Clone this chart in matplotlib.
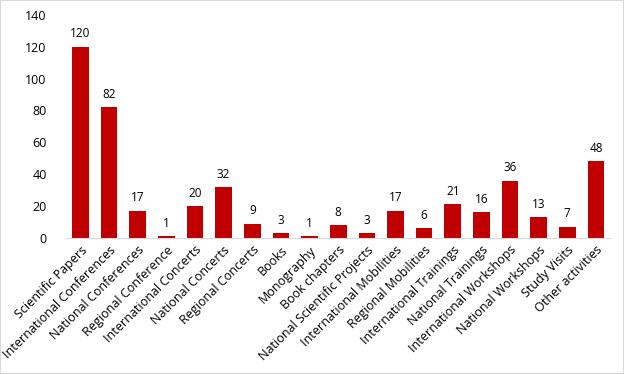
import matplotlib.pyplot as plt
from matplotlib.patches import Rectangle

categories = ["Scientific Papers", "International Conferences", "National Conferences",
              "Regional Conference", "International Concerts", "National Concerts",
              "Regional Concerts", "Books", "Monography", "Book chapters",
              "National Scientific Projects", "International Mobilities",
              "Regional Mobilities", "International Trainings", "National Trainings",
              "International Workshops", "National Workshops", "Study Visits",
              "Other activities"]
values = [120, 82, 17, 1, 20, 32, 9, 3, 1, 8, 3, 17, 6, 21, 16, 36, 13, 7, 48]

plt.rcParams['font.family'] = ['Open Sans', 'DejaVu Sans']

fig = plt.figure(figsize=(6.24, 3.74), dpi=100)
fig.patches.append(Rectangle((0, 0), 1, 1, transform=fig.transFigure,
                             fill=False, edgecolor='#d9d9d9', linewidth=1.5))
ax = fig.add_axes([0.106, 0.364, 0.872, 0.596])

x = range(len(categories))
bars = ax.bar(x, values, width=0.58, color='#C00000')
for b, v in zip(bars, values):
    ax.text(b.get_x() + b.get_width() / 2, v + 4, str(v), ha='center', va='bottom',
            fontsize=8.5, color='black')

ax.set_ylim(0, 140)
ax.set_yticks(range(0, 141, 20))
ax.set_xlim(-0.5, len(categories) - 0.5)
ax.set_xticks(list(x))
ax.set_xticklabels(categories, rotation=45, ha='right', rotation_mode='anchor',
                   fontsize=9)
ax.tick_params(axis='both', length=0, labelsize=9)
ax.tick_params(axis='x', pad=4)
ax.tick_params(axis='y', pad=14)
for s in ['top', 'right', 'left']:
    ax.spines[s].set_visible(False)
ax.spines['bottom'].set_color('#d9d9d9')

fig.savefig('out.png', dpi=100)
